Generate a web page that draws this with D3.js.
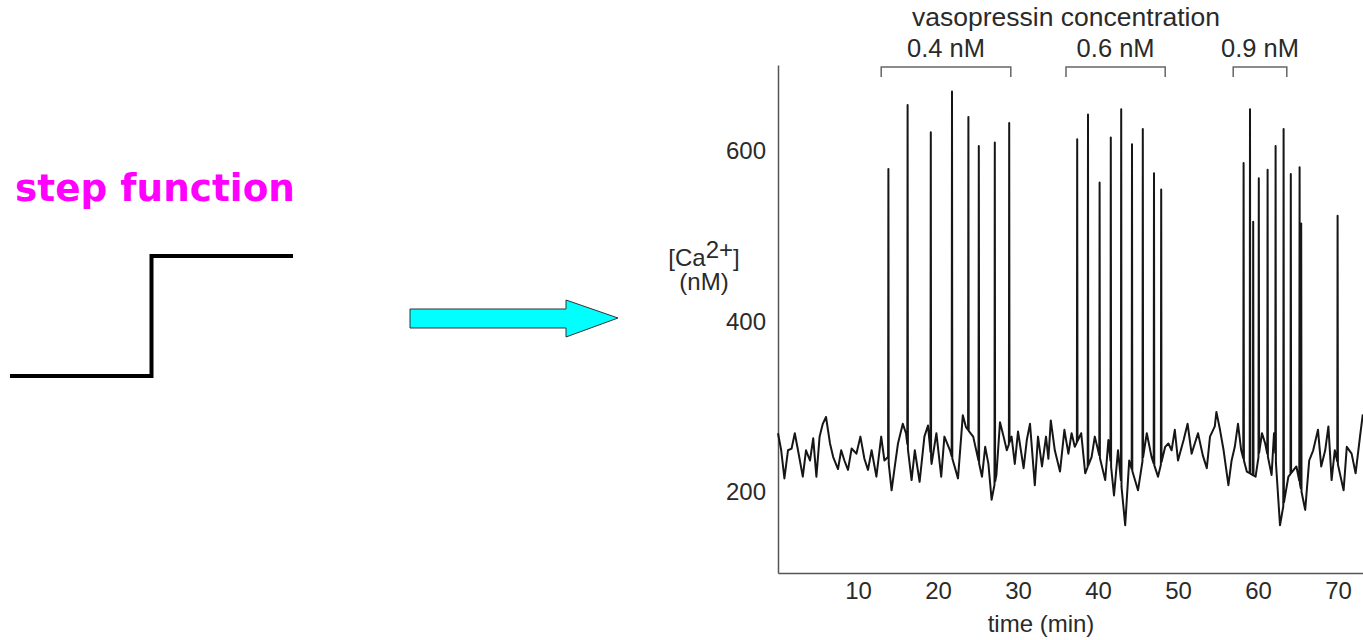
<!DOCTYPE html>
<html>
<head>
<meta charset="utf-8">
<script src="https://cdn.jsdelivr.net/npm/d3@7"></script>
<style>
  body { margin: 0; background: #fff; }
  svg { display: block; }
</style>
</head>
<body>
<div class="main"></div>
<script>
var width = 1363;
var height = 640;

// step function sketch (left)
var stepT = [-1, 0, 1];
var stepV = [0, 1, 1];

// baseline Ca2+ trace, time (min) and value (nM)
var baseT = [0.0, 0.4, 0.8, 1.25, 1.7, 2.1, 2.5, 3.1, 3.5, 4.0, 4.4, 4.8, 5.2, 5.6, 6.0, 6.5, 6.9, 7.5, 7.9, 8.3,
  8.75, 9.2, 9.8, 10.3, 10.8, 11.25, 11.7, 12.3, 12.9, 13.3, 13.75, 14.2, 14.6, 15.0, 15.6, 16.0, 16.7, 17.1, 17.7, 18.3,
  18.75, 19.2, 19.8, 20.4, 20.8, 21.5, 22.5, 23.1, 23.5, 24.4, 25.5, 25.9, 26.3, 26.7, 27.3, 27.75, 28.2, 28.6, 29.2, 29.6,
  30.0, 30.7, 31.1, 31.5, 32.1, 32.5, 33.0, 33.5, 33.8, 34.1, 34.6, 35.25, 35.8, 36.3, 36.7, 37.1, 37.9, 38.4, 39.2, 39.6,
  40.9, 41.3, 42.0, 42.5, 43.4, 43.9, 45.0, 46.1, 46.7, 47.5, 48.4, 48.8, 49.2, 49.6, 50.0, 50.7, 51.2, 51.7, 52.1, 52.5,
  53.1, 53.6, 54.0, 54.6, 54.8, 55.25, 55.7, 56.3, 56.7, 57.1, 57.5, 57.9, 58.6, 59.7, 60.5, 60.9, 61.7, 62.0, 62.75, 63.8,
  64.8, 65.9, 66.4, 66.9, 67.5, 67.9, 68.4, 68.8, 69.2, 69.6, 70.7, 71.1, 71.7, 72.2, 72.75, 73.1];
var baseV = [268, 248, 215, 248, 250, 268, 248, 217, 248, 236, 262, 217, 264, 279, 287, 256, 240, 226, 248, 236,
  225, 250, 244, 264, 238, 225, 248, 217, 264, 236, 240, 201, 229, 256, 279, 268, 213, 248, 211, 264,
  277, 232, 268, 217, 264, 248, 215, 289, 275, 264, 217, 252, 232, 190, 219, 281, 264, 248, 264, 232,
  270, 227, 260, 279, 207, 264, 229, 264, 238, 283, 248, 223, 272, 244, 268, 252, 268, 221, 240, 264,
  213, 260, 195, 248, 160, 236, 201, 268, 240, 217, 252, 256, 248, 272, 236, 260, 279, 244, 256, 268,
  242, 227, 264, 276, 293, 272, 248, 207, 236, 252, 279, 248, 223, 217, 268, 256, 219, 268, 160, 217,
  229, 178, 236, 248, 272, 229, 248, 276, 213, 248, 201, 252, 244, 221, 264, 290];

// spikes: time (min) and peak (nM)
var spikeT = [13.8, 16.2, 19.1, 21.75, 23.8, 25.1, 27.1, 28.9, 37.4, 38.75, 40.2, 41.6, 42.9, 44.25, 45.6, 47.0, 47.9,
  58.2, 59.0, 59.4, 60.1, 61.2, 62.2, 63.2, 64.1, 65.2, 65.4, 69.95];
var spikeV = [578, 653, 621, 669, 639, 605, 609, 632, 613, 642, 562, 615, 648, 607, 625, 573, 554,
  585, 648, 516, 567, 577, 605, 625, 572, 580, 514, 523];

// vasopressin application periods
var concLabels = ["0.4 nM", "0.6 nM", "0.9 nM"];
var concStart = [12.9, 36.0, 56.9];
var concEnd = [29.1, 48.4, 63.6];

var xTicks = [10, 20, 30, 40, 50, 60, 70];
var yTicks = [200, 400, 600];

var svg = d3.select(".main")
    .append("svg")
        .attr("width", width)
        .attr("height", height);

// ---- left: step function ----
svg.append("text")
    .attr("x", 15)
    .attr("y", 201)
    .style("font-family", "DejaVu Sans")
    .style("font-weight", "bold")
    .style("font-size", "37.4px")
    .style("fill", "#ff00ff")
    .text("step function");

var stepX = d3.scaleLinear().domain([-1, 1]).range([10, 293]);
var stepY = d3.scaleLinear().domain([0, 1]).range([376, 256]);
var stepLine = d3.line()
    .x((d, i) => stepX(stepT[i]))
    .y(d => stepY(d))
    .curve(d3.curveStepAfter);

svg.append("path")
    .attr("d", stepLine(stepV))
    .attr("fill", "none")
    .attr("stroke", "#000")
    .attr("stroke-width", 4);

// ---- arrow ----
svg.append("polygon")
    .attr("points", "410,309 566,309 566,300 618,318 566,337 566,328 410,328")
    .attr("fill", "#00ffff")
    .attr("stroke", "#333")
    .attr("stroke-width", 1);

// ---- right: Ca2+ trace ----
var xScale = d3.scaleLinear()
    .domain([0, 73.125])
    .range([778, 1363]);

var yScale = d3.scaleLinear()
    .domain([104, 700])
    .range([573, 65]);

var chartFont = "Liberation Sans, Arial, sans-serif";
var textColor = "#2a2a2a";

var xAxis = d3.axisBottom(xScale).tickValues(xTicks).tickSize(0).tickPadding(9);
var yAxis = d3.axisLeft(yScale).tickValues(yTicks).tickSize(0).tickPadding(12);

var xAxisGroup = svg.append("g")
    .attr("transform", "translate(0, 573)")
    .call(xAxis);
var yAxisGroup = svg.append("g")
    .attr("transform", "translate(778, 0)")
    .call(yAxis);

[xAxisGroup, yAxisGroup].forEach(g => {
    g.select(".domain").attr("stroke", "#555").attr("stroke-width", 1.5);
    g.selectAll("text")
        .style("font-family", chartFont)
        .style("font-size", "24px")
        .style("fill", textColor);
});
yAxisGroup.selectAll("text").attr("dy", "0.35em");

// merge baseline and spikes into one trace
function baseAt(t) {
    var i = d3.bisectLeft(baseT, t);
    if (i <= 0) return baseV[0];
    if (i >= baseT.length) return baseV[baseV.length - 1];
    var f = (t - baseT[i - 1]) / (baseT[i] - baseT[i - 1]);
    return baseV[i - 1] + f * (baseV[i] - baseV[i - 1]);
}

var trace = baseT.map((t, i) => [t, baseV[i]]);
spikeT.forEach((t, i) => {
    trace.push([t - 0.04, baseAt(t - 0.04)]);
    trace.push([t, spikeV[i]]);
    trace.push([t + 0.04, baseAt(t + 0.04)]);
});
trace.sort((a, b) => a[0] - b[0]);

var line = d3.line()
    .x(d => xScale(d[0]))
    .y(d => yScale(d[1]));

svg.append("path")
    .attr("d", line(trace))
    .attr("fill", "none")
    .attr("stroke", "#161616")
    .attr("stroke-width", 2)
    .attr("stroke-linejoin", "round");

// brackets and concentration labels
concLabels.forEach((lab, i) => {
    var x0 = xScale(concStart[i]);
    var x1 = xScale(concEnd[i]);
    svg.append("path")
        .attr("d", "M" + x0 + ",77V67H" + x1 + "V77")
        .attr("fill", "none")
        .attr("stroke", "#666")
        .attr("stroke-width", 1.5);
    svg.append("text")
        .attr("x", (x0 + x1) / 2)
        .attr("y", 57)
        .attr("text-anchor", "middle")
        .style("font-family", chartFont)
        .style("font-size", "25.5px")
        .style("fill", textColor)
        .text(lab);
});

svg.append("text")
    .attr("x", 1066)
    .attr("y", 26)
    .attr("text-anchor", "middle")
    .style("font-family", chartFont)
    .style("font-size", "26.5px")
    .style("fill", textColor)
    .text("vasopressin concentration");

svg.append("text")
    .attr("x", 1041)
    .attr("y", 632)
    .attr("text-anchor", "middle")
    .style("font-family", chartFont)
    .style("font-size", "24px")
    .style("fill", textColor)
    .text("time (min)");

// y label [Ca2+] (nM)
var yLab = svg.append("text")
    .attr("x", 704)
    .attr("y", 266)
    .attr("text-anchor", "middle")
    .style("font-family", chartFont)
    .style("font-size", "24px")
    .style("fill", textColor);
yLab.append("tspan").text("[Ca");
yLab.append("tspan").attr("dy", -8).text("2+");
yLab.append("tspan").attr("dy", 8).text("]");

svg.append("text")
    .attr("x", 704)
    .attr("y", 290)
    .attr("text-anchor", "middle")
    .style("font-family", chartFont)
    .style("font-size", "24px")
    .style("fill", textColor)
    .text("(nM)");
</script>
</body>
</html>
